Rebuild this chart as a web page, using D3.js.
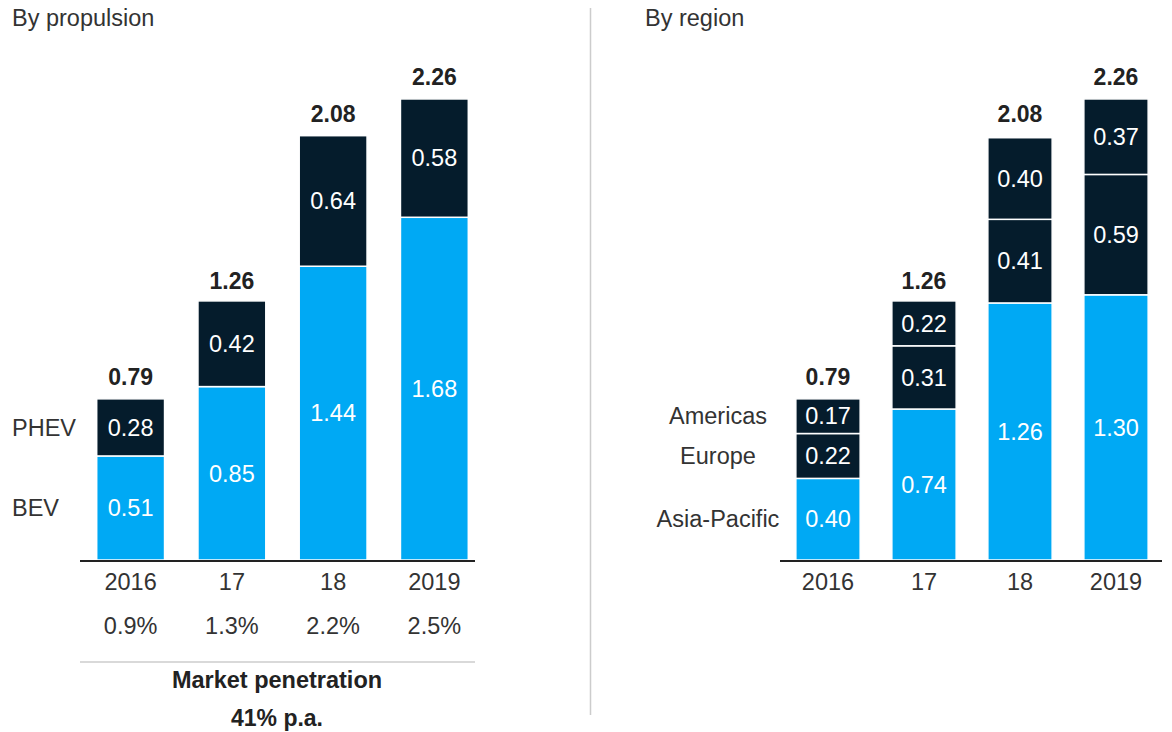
<!DOCTYPE html>
<meta charset="utf-8">
<style>
  body { margin: 0; background: #fff; }
  svg text { font-family: "Liberation Sans", Arial, sans-serif; }
</style>
<svg width="1172" height="732"></svg>
<script src="https://cdn.jsdelivr.net/npm/d3@7"></script>
<script>

var years = ["2016", "17", "18", "2019"];
var totals = [0.79, 1.26, 2.08, 2.26];
var bev = [0.51, 0.85, 1.44, 1.68];
var phev = [0.28, 0.42, 0.64, 0.58];
var penetration = ["0.9%", "1.3%", "2.2%", "2.5%"];
var asiaPacific = [0.40, 0.74, 1.26, 1.30];
var europe = [0.22, 0.31, 0.41, 0.59];
var americas = [0.17, 0.22, 0.40, 0.37];

var svg = d3.select("svg");
var light = "#00a9f4", dark = "#051c2c", ink = "#333";
var baseY = 560;
var fs = "23.5px";

// one y scale for both panels
var y = d3.scaleLinear().domain([0, 2.3]).range([baseY, baseY - 2.3 * 204]);

function panel(opts) {
  var x = d3.scaleBand().domain(years).range(opts.range).paddingInner(0.33).paddingOuter(0.165);
  var rows = years.map(function(yr, i) {
    var r = { year: yr, total: totals[i] };
    opts.series.forEach(function(s) { r[s.key] = s.values[i]; });
    return r;
  });
  var stack = d3.stack().keys(opts.series.map(function(s) { return s.key; }))(rows);
  var g = svg.append("g");

  stack.forEach(function(layer, li) {
    var s = opts.series[li];
    var lg = g.append("g");
    lg.selectAll("rect").data(layer).join("rect")
      .attr("x", function(d) { return x(d.data.year); })
      .attr("width", x.bandwidth())
      .attr("y", function(d) { return y(d[1]); })
      .attr("height", function(d) { return y(d[0]) - y(d[1]); })
      .attr("fill", s.color)
      .attr("stroke", "#fff")
      .attr("stroke-width", 1.5);
    lg.selectAll("text").data(layer).join("text")
      .attr("x", function(d) { return x(d.data.year) + x.bandwidth() / 2; })
      .attr("y", function(d) { return (y(d[0]) + y(d[1])) / 2; })
      .attr("dy", "0.35em")
      .attr("text-anchor", "middle")
      .attr("fill", "#fff")
      .style("font-size", fs)
      .text(function(d) { return (d[1] - d[0]).toFixed(2); });
  });

  // totals
  g.selectAll(".total").data(rows).join("text")
    .attr("class", "total")
    .attr("x", function(d) { return x(d.year) + x.bandwidth() / 2; })
    .attr("y", function(d) { return y(d.total) - 14; })
    .attr("text-anchor", "middle")
    .attr("fill", "#222")
    .style("font-size", "23px")
    .style("font-weight", "bold")
    .text(function(d) { return d.total.toFixed(2); });

  // baseline
  g.append("line")
    .attr("x1", opts.line[0]).attr("x2", opts.line[1])
    .attr("y1", baseY + 1).attr("y2", baseY + 1)
    .attr("stroke", "#222").attr("stroke-width", 2);

  // year labels
  var xAxis = d3.axisBottom(x).tickSize(0).tickPadding(0);
  var ax = g.append("g").attr("transform", "translate(0," + (baseY + 22) + ")").call(xAxis);
  ax.select(".domain").remove();
  ax.selectAll("text")
    .attr("dy", "0.35em")
    .attr("fill", ink)
    .style("font-size", fs);

  // legend labels, centred on the 2016 segments
  stack.forEach(function(layer, li) {
    var d = layer[0];
    g.append("text")
      .attr("x", opts.legendX)
      .attr("y", (y(d[0]) + y(d[1])) / 2)
      .attr("dy", "0.35em")
      .attr("text-anchor", opts.legendAnchor)
      .attr("fill", ink)
      .style("font-size", fs)
      .text(opts.series[li].label);
  });

  g.append("text")
    .attr("x", opts.titleX).attr("y", 18)
    .attr("dy", "0.35em")
    .attr("fill", ink)
    .style("font-size", "23.5px")
    .text(opts.title);

  return x;
}

var xl = panel({
  title: "By propulsion", titleX: 12,
  range: [80, 485], line: [80, 475],
  legendX: 12, legendAnchor: "start",
  series: [
    { key: "bev", label: "BEV", values: bev, color: light },
    { key: "phev", label: "PHEV", values: phev, color: dark }
  ]
});

panel({
  title: "By region", titleX: 645,
  range: [780, 1164], line: [780, 1162],
  legendX: 718, legendAnchor: "middle",
  series: [
    { key: "asia", label: "Asia-Pacific", values: asiaPacific, color: light },
    { key: "europe", label: "Europe", values: europe, color: dark },
    { key: "americas", label: "Americas", values: americas, color: dark }
  ]
});

// market penetration row
svg.append("g").selectAll("text").data(years).join("text")
  .attr("x", function(d) { return xl(d) + xl.bandwidth() / 2; })
  .attr("y", 626)
  .attr("dy", "0.35em")
  .attr("text-anchor", "middle")
  .attr("fill", ink)
  .style("font-size", fs)
  .text(function(d, i) { return penetration[i]; });

svg.append("line")
  .attr("x1", 80).attr("x2", 475).attr("y1", 662).attr("y2", 662)
  .attr("stroke", "#ccc").attr("stroke-width", 1.5);

svg.append("text")
  .attr("x", 277).attr("y", 680).attr("dy", "0.35em")
  .attr("text-anchor", "middle").attr("fill", "#222")
  .style("font-size", "23.5px").style("font-weight", "bold")
  .text("Market penetration");

svg.append("text")
  .attr("x", 277).attr("y", 718).attr("dy", "0.35em")
  .attr("text-anchor", "middle").attr("fill", "#222")
  .style("font-size", "23px").style("font-weight", "bold")
  .text("41% p.a.");

// divider
svg.append("line")
  .attr("x1", 590.5).attr("x2", 590.5).attr("y1", 8).attr("y2", 715)
  .attr("stroke", "#ccc").attr("stroke-width", 1.5);

</script>
